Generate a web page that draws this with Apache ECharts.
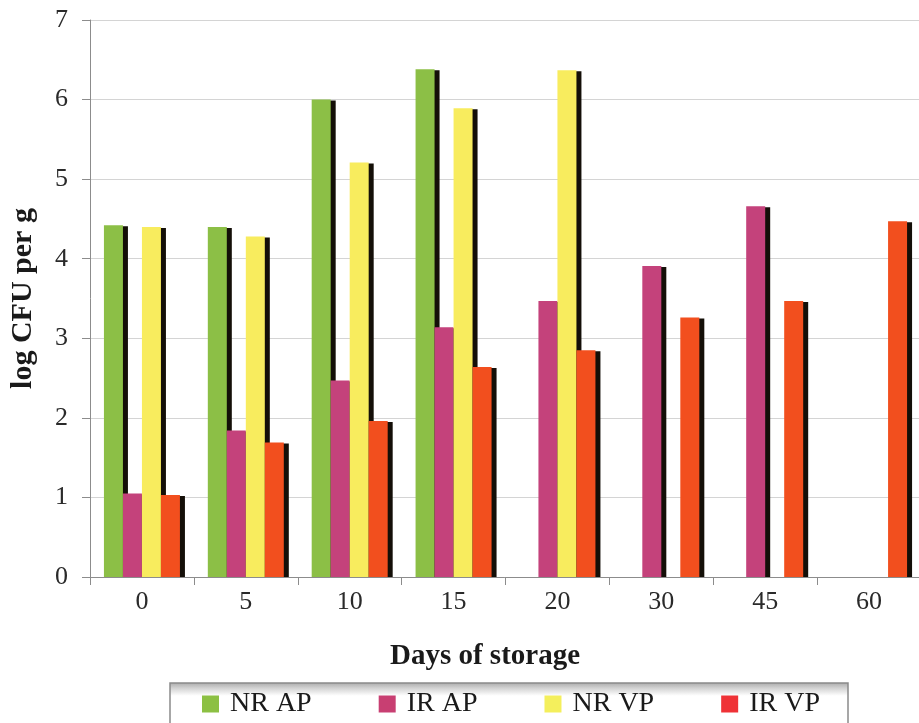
<!DOCTYPE html>
<html>
<head>
<meta charset="utf-8">
<script src="https://cdn.jsdelivr.net/npm/echarts@6/dist/echarts.min.js"></script>
<style>
  html, body { margin: 0; padding: 0; background: #fff; }
  #chart { width: 919px; height: 723px; }
</style>
</head>
<body>
<div id="chart"></div>
<script>
// Storage days on the x axis
const days = ['0', '5', '10', '15', '20', '30', '45', '60'];

// log CFU per g for each treatment (null = no count)
const nrAP = [4.42, 4.40, 6.00, 6.38, null, null, null, null];
const irAP = [1.05, 1.84, 2.47, 3.14, 3.47, 3.91, 4.66, null];
const nrVP = [4.40, 4.28, 5.21, 5.89, 6.37, null, null, null];
const irVP = [1.03, 1.69, 1.96, 2.64, 2.85, 3.26, 3.47, 4.47];

const seriesNames = ['NR AP', 'IR AP', 'NR VP', 'IR VP'];
const barColors = ['#8cbf46', '#c4427b', '#f8ec5e', '#f24f1e'];
const legendColors = ['#8cc043', '#c83f72', '#f4ef5c', '#ef3236'];

const FONT = '"Liberation Serif", "Times New Roman", serif';

const chart = echarts.init(document.getElementById('chart'), null, { renderer: 'canvas' });

const seriesData = [nrAP, irAP, nrVP, irVP];

chart.setOption({
  animation: false,
  backgroundColor: '#ffffff',
  grid: { left: 90, top: 20, width: 831, bottom: 146, containLabel: false, outerBoundsMode: 'none' },
  legend: {
    left: 202,
    top: 690,
    padding: 0,
    itemWidth: 17,
    itemHeight: 17,
    itemGap: 67,
    icon: 'rect',
    textStyle: { fontFamily: FONT, fontSize: 28, color: '#1a1a1a', padding: [0, 0, 0, 6] },
    data: seriesNames.map((n, i) => ({
      name: n,
      itemStyle: { color: legendColors[i], shadowColor: 'transparent', shadowOffsetX: 0, shadowOffsetY: 0 }
    }))
  },
  graphic: [
    {
      type: 'rect',
      z: -1,
      shape: { x: 170, y: 683, width: 678, height: 60 },
      style: {
        fill: new echarts.graphic.LinearGradient(0, 0, 0, 1, [
          { offset: 0, color: '#a9a9a9' },
          { offset: 0.1, color: '#d4d4d4' },
          { offset: 0.22, color: '#ffffff' },
          { offset: 1, color: '#ffffff' }
        ]),
        stroke: '#8a8a8a',
        lineWidth: 1.5
      }
    },
    {
      type: 'text',
      x: 485,
      y: 657,
      style: {
        text: 'Days of storage',
        fontFamily: FONT,
        fontSize: 29,
        fontWeight: 'bold',
        fill: '#1a1a1a',
        align: 'center',
        verticalAlign: 'middle'
      }
    }
  ],
  xAxis: {
    type: 'category',
    data: days,
    boundaryGap: true,
    z: 10,
    axisLine: { lineStyle: { color: '#8c8c8c', width: 1 } },
    axisTick: { show: true, length: 8, lineStyle: { color: '#8c8c8c' } },
    axisLabel: { fontFamily: FONT, fontSize: 26, color: '#2a2a2a', margin: 12 },
    splitLine: { show: false }
  },
  yAxis: {
    type: 'value',
    min: 0,
    max: 7,
    interval: 1,
    name: 'log CFU per g',
    nameLocation: 'middle',
    nameGap: 52,
    nameTextStyle: { fontFamily: FONT, fontSize: 30, fontWeight: 'bold', color: '#1a1a1a' },
    axisLine: { show: true, lineStyle: { color: '#8c8c8c', width: 1 } },
    axisTick: { show: true, length: 8, lineStyle: { color: '#8c8c8c' } },
    axisLabel: { fontFamily: FONT, fontSize: 26, color: '#2a2a2a', margin: 22 },
    splitLine: { show: true, lineStyle: { color: '#d4d4d4', width: 1 } }
  },
  series: seriesNames.map((n, i) => ({
    name: n,
    type: 'bar',
    data: seriesData[i],
    barWidth: 19,
    barGap: '0%',
    itemStyle: {
      color: barColors[i],
      shadowColor: '#140f08',
      shadowBlur: 0,
      shadowOffsetX: 5,
      shadowOffsetY: 1
    }
  }))
});
</script>
</body>
</html>
